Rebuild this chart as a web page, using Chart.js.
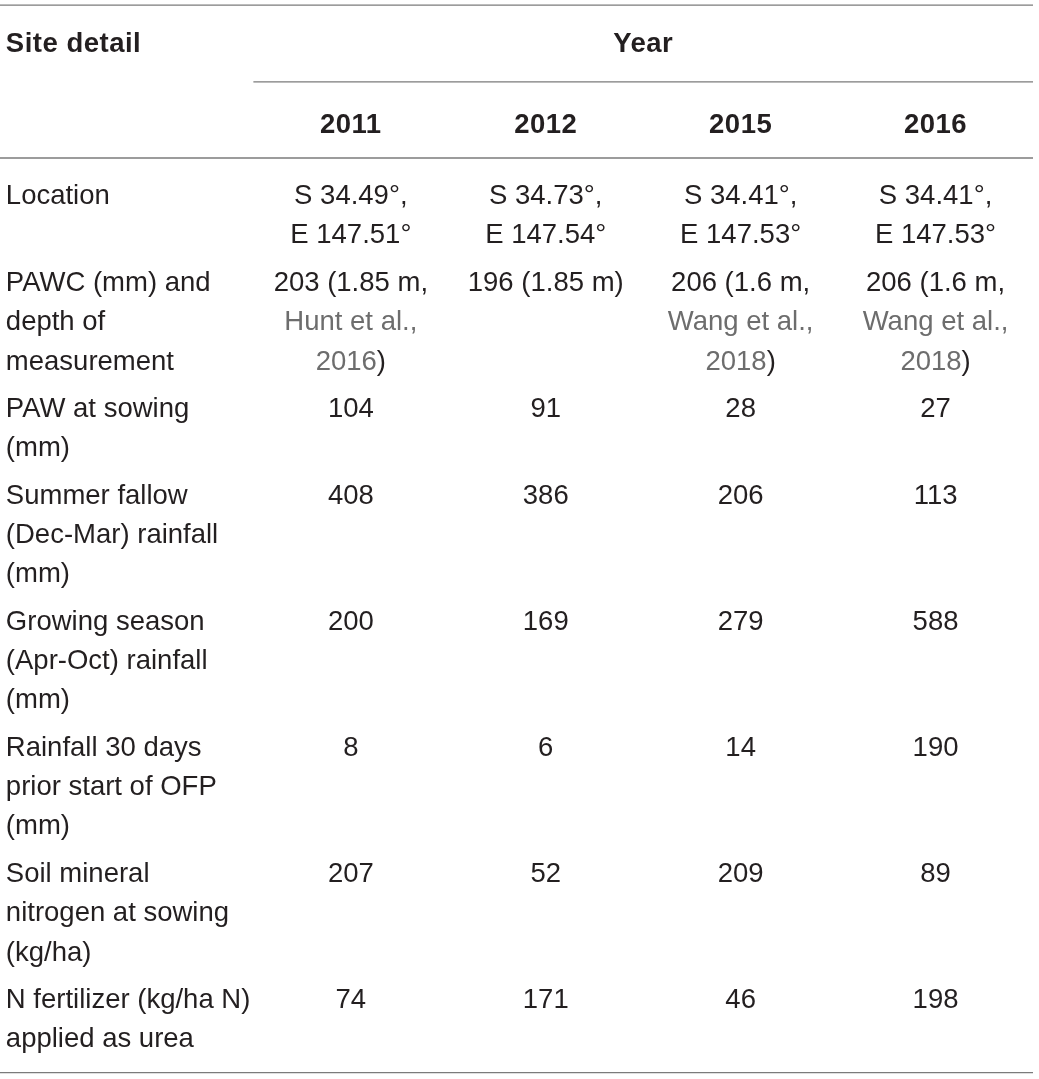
<!DOCTYPE html>
<html>
    <head>
        <title>Site details</title>
        <meta charset="utf-8">
        <style>
            html, body { margin: 0; padding: 0; background: #ffffff; }
            canvas { display: block; }
        </style>
    </head>
    <body>
        <canvas id="siteTable" width="1039" height="1079"></canvas>
        <script src="https://cdn.jsdelivr.net/npm/chart.js"></script>
        <script>
            // table content
            const headLabel = 'Site detail';
            const headGroup = 'Year';
            const years = ['2011', '2012', '2015', '2016'];
            const siteDetails = [
                ['Location'],
                ['PAWC (mm) and', 'depth of', 'measurement'],
                ['PAW at sowing', '(mm)'],
                ['Summer fallow', '(Dec-Mar) rainfall', '(mm)'],
                ['Growing season', '(Apr-Oct) rainfall', '(mm)'],
                ['Rainfall 30 days', 'prior start of OFP', '(mm)'],
                ['Soil mineral', 'nitrogen at sowing', '(kg/ha)'],
                ['N fertilizer (kg/ha N)', 'applied as urea']
            ];
            // '|' = line break, {...} = citation text (grey)
            const values2011 = ['S 34.49°,|E 147.51°', '203 (1.85 m,|{Hunt et al.,}|{2016})', '104', '408', '200', '8', '207', '74'];
            const values2012 = ['S 34.73°,|E 147.54°', '196 (1.85 m)', '91', '386', '169', '6', '52', '171'];
            const values2015 = ['S 34.41°,|E 147.53°', '206 (1.6 m,|{Wang et al.,}|{2018})', '28', '206', '279', '14', '209', '46'];
            const values2016 = ['S 34.41°,|E 147.53°', '206 (1.6 m,|{Wang et al.,}|{2018})', '27', '113', '588', '190', '89', '198'];
            const columns = [values2011, values2012, values2015, values2016];

            // layout, y in units of one text line
            const LINE_PX = 39.4;
            const LABEL_X = -0.77;
            const layout = { topRule: 0.13, headBase: 1.32, yearRule: 2.08, yearBase: 3.38, headRule: 4.01, firstBase: 5.18, rowGap: 0.2, bottomPad: 0.645 };
            const TEXT = '#231f20';
            const CITE = '#6d6d6d';
            const RULE = '#7b7b7b';

            // build one point per text line
            const cells = [];
            cells.push({ x: LABEL_X, y: layout.headBase, text: headLabel, bold: true, align: 'left' });
            cells.push({ x: 2.5, y: layout.headBase, text: headGroup, bold: true, align: 'center' });
            years.forEach((yr, c) => cells.push({ x: c + 1, y: layout.yearBase, text: yr, bold: true, align: 'center' }));

            let base = layout.firstBase;
            let lastBase = base;
            siteDetails.forEach((label, r) => {
                let n = label.length;
                label.forEach((t, l) => cells.push({ x: LABEL_X, y: base + l, text: t, align: 'left' }));
                columns.forEach((col, c) => {
                    const lines = col[r].split('|');
                    n = Math.max(n, lines.length);
                    lines.forEach((t, l) => cells.push({ x: c + 1, y: base + l, text: t, align: 'center' }));
                });
                lastBase = base + n - 1;
                base += n + layout.rowGap;
            });
            const bottomRule = lastBase + layout.bottomPad;

            function segments(str) {
                return str.split(/(\{[^}]*\})/).filter(s => s.length).map(s =>
                    s[0] === '{' ? { t: s.slice(1, -1), color: CITE } : { t: s, color: TEXT });
            }

            const tablePlugin = {
                id: 'tablePlugin',
                beforeDatasetsDraw(chart) {
                    const ctx = chart.ctx, xs = chart.scales.x, ys = chart.scales.y;
                    const rule = (yv, x0, x1) => {
                        const py = ys.getPixelForValue(yv);
                        ctx.beginPath();
                        ctx.moveTo(x0, py);
                        ctx.lineTo(x1, py);
                        ctx.stroke();
                    };
                    ctx.save();
                    ctx.strokeStyle = RULE;
                    ctx.lineWidth = 1.3;
                    rule(layout.topRule, xs.left, xs.right);
                    rule(layout.yearRule, xs.getPixelForValue(0.5), xs.right);
                    rule(layout.headRule, xs.left, xs.right);
                    rule(bottomRule, xs.left, xs.right);
                    ctx.restore();
                },
                afterDatasetsDraw(chart) {
                    const ctx = chart.ctx;
                    const meta = chart.getDatasetMeta(0);
                    const data = chart.data.datasets[0].data;
                    ctx.save();
                    ctx.textBaseline = 'alphabetic';
                    ctx.textAlign = 'left';
                    meta.data.forEach((pt, i) => {
                        const cell = data[i];
                        ctx.font = (cell.bold ? 'bold ' : '') + '27.5px "Liberation Sans", Arial, sans-serif';
                        ctx.letterSpacing = cell.bold ? '0.5px' : '0px';
                        const segs = segments(cell.text);
                        const w = segs.reduce((s, g) => s + ctx.measureText(g.t).width, 0);
                        let x = cell.align === 'center' ? pt.x - w / 2 : pt.x;
                        segs.forEach(g => {
                            ctx.fillStyle = g.color;
                            ctx.fillText(g.t, x, pt.y);
                            x += ctx.measureText(g.t).width;
                        });
                    });
                    ctx.restore();
                }
            };

            const canvas = document.getElementById('siteTable');
            const table = new Chart(canvas, {
                type: 'scatter',
                data: {
                    datasets: [{
                        data: cells,
                        pointRadius: 0,
                        pointHoverRadius: 0
                    }]
                },
                options: {
                    responsive: false,
                    animation: false,
                    devicePixelRatio: 1,
                    layout: { padding: { left: 0, right: 6, top: 0, bottom: 0 } },
                    plugins: { legend: { display: false }, tooltip: { enabled: false } },
                    events: [],
                    scales: {
                        x: { type: 'linear', min: -0.8, max: 4.5, display: false },
                        y: { type: 'linear', min: 0, max: canvas.height / LINE_PX, reverse: true, display: false }
                    }
                },
                plugins: [tablePlugin]
            });
        </script>
    </body>
</html>
